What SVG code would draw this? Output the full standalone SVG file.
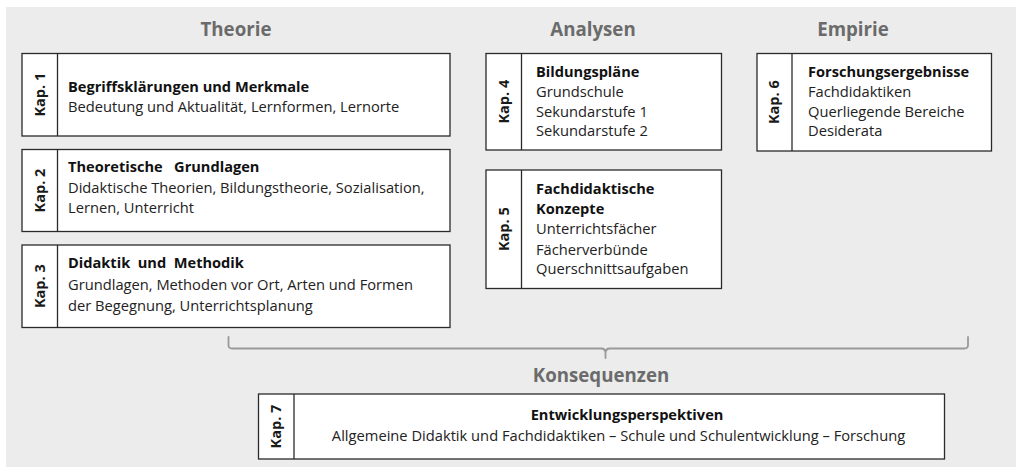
<svg xmlns="http://www.w3.org/2000/svg" width="1016" height="467" viewBox="0 0 1016 467">
<style>
.bg{fill:#ececec}
.box{fill:#fff;stroke:#2a2a2a;stroke-width:1.3}
.div{stroke:#2a2a2a;stroke-width:1.3}
.sec{font-family:"Open Sans","Noto Sans",sans-serif;font-weight:bold;font-size:18.7px;fill:#6b6b6b;text-anchor:middle}
.kap{font-family:"Open Sans","Noto Sans",sans-serif;font-weight:bold;font-size:14.5px;fill:#1a1a1a;text-anchor:middle}
.t{font-family:"Open Sans","Noto Sans",sans-serif;font-weight:bold;font-size:14.6px;fill:#111}
.b{font-family:"Open Sans","Noto Sans",sans-serif;font-size:14.7px;fill:#222}
.brace{fill:none;stroke:#9a9a9a;stroke-width:1.8;stroke-linecap:round;stroke-linejoin:round}
</style>
<rect class="bg" x="6" y="7" width="1010" height="460"/>
<g id="headings">
<text class="sec" x="236" y="36">Theorie</text>
<text class="sec" x="593" y="36">Analysen</text>
<text class="sec" x="853" y="36">Empirie</text>
<text class="sec" x="601" y="382">Konsequenzen</text>
</g>
<g id="connectors">
<path class="brace" d="M228.5,337 V345 Q228.5,348.5 232,348.5 H601 Q605.5,348.5 605.5,353 V358 M605.5,353 Q605.5,348.5 610,348.5 H964.5 Q968,348.5 968,345 V337"/>
</g>
<g id="kap1">
<rect class="box" x="22" y="53.5" width="428" height="82.5"/>
<line class="div" x1="57.5" y1="53.5" x2="57.5" y2="136"/>
<text class="kap" transform="translate(44.5,94.7) rotate(-90)">Kap. 1</text>
<text class="t" x="68" y="92">Begriffsklärungen und Merkmale</text>
<text class="b" x="68" y="111.5">Bedeutung und Aktualität, Lernformen, Lernorte</text>
</g>
<g id="kap2">
<rect class="box" x="22" y="149.5" width="428" height="82"/>
<line class="div" x1="57.5" y1="149.5" x2="57.5" y2="231.5"/>
<text class="kap" transform="translate(44.5,190.5) rotate(-90)">Kap. 2</text>
<text class="t" x="68" y="172" xml:space="preserve">Theoretische   Grundlagen</text>
<text class="b" x="68" y="192.5">Didaktische Theorien, Bildungstheorie, Sozialisation,</text>
<text class="b" x="68" y="213">Lernen, Unterricht</text>
</g>
<g id="kap3">
<rect class="box" x="22" y="245" width="428" height="82.5"/>
<line class="div" x1="57.5" y1="245" x2="57.5" y2="327.5"/>
<text class="kap" transform="translate(44.5,286.2) rotate(-90)">Kap. 3</text>
<text class="t" x="68" y="268" xml:space="preserve">Didaktik  und  Methodik</text>
<text class="b" x="68" y="290">Grundlagen, Methoden vor Ort, Arten und Formen</text>
<text class="b" x="68" y="311">der Begegnung, Unterrichtsplanung</text>
</g>
<g id="kap4">
<rect class="box" x="486" y="53.5" width="235.5" height="96.5"/>
<line class="div" x1="521.5" y1="53.5" x2="521.5" y2="150"/>
<text class="kap" transform="translate(508.5,101.7) rotate(-90)">Kap. 4</text>
<text class="t" x="536" y="77">Bildungspläne</text>
<text class="b" x="536" y="97">Grundschule</text>
<text class="b" x="536" y="116.5">Sekundarstufe 1</text>
<text class="b" x="536" y="136">Sekundarstufe 2</text>
</g>
<g id="kap5">
<rect class="box" x="486" y="170" width="235.5" height="118.5"/>
<line class="div" x1="521.5" y1="170" x2="521.5" y2="288.5"/>
<text class="kap" transform="translate(508.5,229.2) rotate(-90)">Kap. 5</text>
<text class="t" x="536" y="194">Fachdidaktische</text>
<text class="t" x="536" y="214">Konzepte</text>
<text class="b" x="536" y="234">Unterrichtsfächer</text>
<text class="b" x="536" y="254.5">Fächerverbünde</text>
<text class="b" x="536" y="274">Querschnittsaufgaben</text>
</g>
<g id="kap6">
<rect class="box" x="757" y="53.5" width="234.5" height="97.5"/>
<line class="div" x1="792" y1="53.5" x2="792" y2="151"/>
<text class="kap" transform="translate(779,102.2) rotate(-90)">Kap. 6</text>
<text class="t" x="808" y="77">Forschungsergebnisse</text>
<text class="b" x="808" y="97">Fachdidaktiken</text>
<text class="b" x="808" y="116.5">Querliegende Bereiche</text>
<text class="b" x="808" y="136">Desiderata</text>
</g>
<g id="kap7">
<rect class="box" x="258.5" y="394" width="686" height="65"/>
<line class="div" x1="294" y1="394" x2="294" y2="459"/>
<text class="kap" transform="translate(281,426.5) rotate(-90)">Kap. 7</text>
<text class="t" x="627" y="420" text-anchor="middle">Entwicklungsperspektiven</text>
<text class="b" x="618.5" y="441" text-anchor="middle">Allgemeine Didaktik und Fachdidaktiken – Schule und Schulentwicklung – Forschung</text>
</g>
</svg>
